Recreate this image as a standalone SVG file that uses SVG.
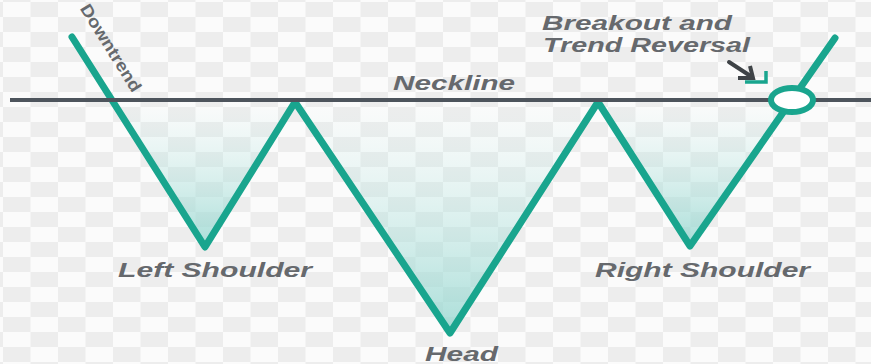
<svg xmlns="http://www.w3.org/2000/svg" width="871" height="364" viewBox="0 0 871 364">
  <defs>
    <pattern id="checker" width="55" height="30" patternUnits="userSpaceOnUse" patternTransform="translate(3,17)">
      <rect x="0" y="0" width="55" height="30" fill="#fbfbfb"/>
      <rect x="0" y="0" width="27.5" height="15" fill="#ededed"/>
      <rect x="27.5" y="15" width="27.5" height="15" fill="#ededed"/>
    </pattern>
    <linearGradient id="vfill" x1="0" y1="0" x2="0" y2="1">
      <stop offset="0" stop-color="#c8ece8" stop-opacity="0"/>
      <stop offset="1" stop-color="#94d6cf" stop-opacity="0.8"/>
    </linearGradient>
  </defs>
  <style>
    .lbl { font-family: "Liberation Sans", Arial, sans-serif; font-weight: bold; font-style: italic; fill: #66696d; font-size: 20px; }
    .teal { fill: none; stroke: #19a58e; stroke-width: 7; stroke-linejoin: round; stroke-linecap: round; }
    .neck { stroke: #4d545c; stroke-width: 4; fill: none; }
    .vf { fill: url(#vfill); stroke: none; }
  </style>

  <rect x="0" y="0" width="871" height="364" fill="url(#checker)"/>

  <g id="fills">
    <polygon id="fill-left" class="vf" points="112,100 295,100 205,247"/>
    <polygon id="fill-head" class="vf" points="295,100 598,100 450,333"/>
    <polygon id="fill-right" class="vf" points="598,100 792,100 690,246"/>
  </g>

  <g id="connectors">
    <polyline id="price-line" class="teal" points="72,37 205,247 295,102 450,333 598,102 690,246 835,38"/>
    <line id="neckline-line" class="neck" x1="10" y1="100" x2="871" y2="100"/>
    <g id="breakout-arrow">
      <line x1="729" y1="62" x2="752" y2="77" stroke="#3f4347" stroke-width="4" stroke-linecap="round"/>
      <polyline points="738,78 753,78 750,66" fill="none" stroke="#3f4347" stroke-width="4" stroke-linejoin="miter"/>
      <polyline points="745,82 766,82 766,71" fill="none" stroke="#19a58e" stroke-width="3.5"/>
    </g>
  </g>

  <g id="breakout-point">
    <ellipse cx="792" cy="100" rx="21" ry="12" fill="#ffffff" stroke="#19a58e" stroke-width="6"/>
  </g>

  <g id="downtrend">
    <text class="lbl" style="font-style: normal; font-size: 17px;" text-anchor="middle" textLength="100" lengthAdjust="spacingAndGlyphs" transform="translate(106,51) rotate(58)">Downtrend</text>
  </g>
  <g id="neckline">
    <text class="lbl" x="393" y="90" font-size="19" textLength="122" lengthAdjust="spacingAndGlyphs">Neckline</text>
  </g>
  <g id="breakout">
    <text class="lbl" x="542" y="30" textLength="190" lengthAdjust="spacingAndGlyphs">Breakout and</text>
    <text class="lbl" x="543" y="52" textLength="207" lengthAdjust="spacingAndGlyphs">Trend Reversal</text>
  </g>
  <g id="left-shoulder">
    <text class="lbl" x="118" y="277" textLength="194" lengthAdjust="spacingAndGlyphs">Left Shoulder</text>
  </g>
  <g id="head">
    <text class="lbl" x="425" y="361" textLength="73" lengthAdjust="spacingAndGlyphs">Head</text>
  </g>
  <g id="right-shoulder">
    <text class="lbl" x="595" y="277" textLength="215" lengthAdjust="spacingAndGlyphs">Right Shoulder</text>
  </g>
</svg>
